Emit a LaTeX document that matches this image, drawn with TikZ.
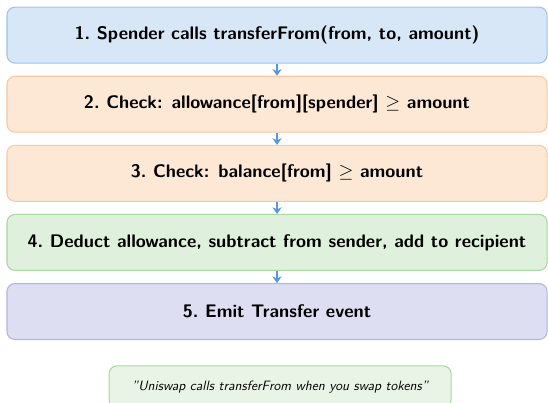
\documentclass[tikz,border=0pt]{standalone}
\usetikzlibrary{positioning,arrows.meta}
\definecolor{bluefill}{HTML}{D8E7F7}
\definecolor{blueline}{HTML}{9DC3EA}
\definecolor{orfill}{HTML}{FDE8D6}
\definecolor{orline}{HTML}{F8C9A2}
\definecolor{grfill}{HTML}{DFF0DC}
\definecolor{grline}{HTML}{A9D8A2}
\definecolor{lvfill}{HTML}{DDDEF1}
\definecolor{lvline}{HTML}{B3B4E3}
\definecolor{arrowblue}{HTML}{5597DE}
\begin{document}
\begin{tikzpicture}[font=\sffamily\bfseries\fontsize{13.7}{16}\selectfont,
  stepbox/.style={draw,rounded corners=0.21cm,line width=0.8pt,minimum width=14.29cm,minimum height=1.48cm},
  flow/.style={arrowblue,line width=1pt,-{Stealth[length=5pt,width=7pt]}},
  node distance=0.32cm]
\useasboundingbox (0,0) rectangle (14.5,-10.66);
% pasos
\node[stepbox,fill=bluefill,draw=blueline] (s1) at (7.33,-0.93) {1.~Spender calls transferFrom(from, to, amount)};
\node[stepbox,fill=orfill,draw=orline,below=of s1] (s2) {2.~Check: allowance[from][spender] $\geq$ amount};
\node[stepbox,fill=orfill,draw=orline,below=of s2] (s3) {3.~Check: balance[from] $\geq$ amount};
\node[stepbox,fill=grfill,draw=grline,below=of s3] (s4) {4.~Deduct allowance, subtract from sender, add to recipient};
\node[stepbox,fill=lvfill,draw=lvline,below=of s4] (s5) {5.~Emit Transfer event};
% flechas
\foreach \a/\b in {s1/s2,s2/s3,s3/s4,s4/s5} { \draw[flow] (\a) -- (\b); }
% nota
\node[draw=grline,fill=grfill!70,rounded corners=0.21cm,line width=0.8pt,minimum width=9.05cm,minimum height=1.12cm,
  font=\sffamily\itshape\fontsize{10.2}{12}\selectfont] (note) at (7.41,-10.24) {"Uniswap calls transferFrom when you swap tokens"};
\end{tikzpicture}
\end{document}
